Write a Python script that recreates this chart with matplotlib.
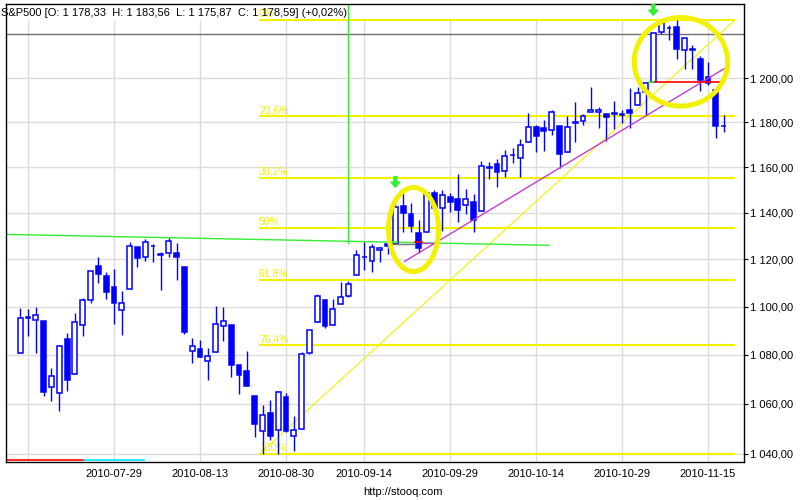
import numpy as np
import matplotlib
matplotlib.use("Agg")
import matplotlib.pyplot as plt
import matplotlib.transforms as mtransforms
from matplotlib.ticker import FixedLocator, NullLocator, FuncFormatter

plt.rcParams['font.family'] = ['Liberation Sans', 'DejaVu Sans']

# S&P500 daily candles, 2010-07-13 .. 2010-11-17
dates = [
    "2010-07-13", "2010-07-14", "2010-07-15", "2010-07-16", "2010-07-19", "2010-07-20", "2010-07-21",
    "2010-07-22", "2010-07-23", "2010-07-26", "2010-07-27", "2010-07-28", "2010-07-29", "2010-07-30",
    "2010-08-02", "2010-08-03", "2010-08-04", "2010-08-05", "2010-08-06", "2010-08-09", "2010-08-10",
    "2010-08-11", "2010-08-12", "2010-08-13", "2010-08-16", "2010-08-17", "2010-08-18", "2010-08-19",
    "2010-08-20", "2010-08-23", "2010-08-24", "2010-08-25", "2010-08-26", "2010-08-27", "2010-08-30",
    "2010-08-31", "2010-09-01", "2010-09-02", "2010-09-03", "2010-09-07", "2010-09-08", "2010-09-09",
    "2010-09-10", "2010-09-13", "2010-09-14", "2010-09-15", "2010-09-16", "2010-09-17", "2010-09-20",
    "2010-09-21", "2010-09-22", "2010-09-23", "2010-09-24", "2010-09-27", "2010-09-28", "2010-09-29",
    "2010-09-30", "2010-10-01", "2010-10-04", "2010-10-05", "2010-10-06", "2010-10-07", "2010-10-08",
    "2010-10-11", "2010-10-12", "2010-10-13", "2010-10-14", "2010-10-15", "2010-10-18", "2010-10-19",
    "2010-10-20", "2010-10-21", "2010-10-22", "2010-10-25", "2010-10-26", "2010-10-27", "2010-10-28",
    "2010-10-29", "2010-11-01", "2010-11-02", "2010-11-03", "2010-11-04", "2010-11-05", "2010-11-08",
    "2010-11-09", "2010-11-10", "2010-11-11", "2010-11-12", "2010-11-15", "2010-11-16", "2010-11-17",
]
opens = [
    1080.65, 1095.61, 1094.46, 1093.85, 1066.85, 1064.53, 1086.67, 1072.14, 1092.17, 1102.89, 1117.36,
    1112.84, 1108.07, 1098.44, 1107.53, 1125.34, 1121.06, 1125.78, 1122.07, 1122.80, 1122.92, 1116.89,
    1081.48, 1082.22, 1077.49, 1081.16, 1092.08, 1092.44, 1075.63, 1073.36, 1063.20, 1048.98, 1056.28,
    1049.27, 1062.90, 1046.88, 1049.72, 1080.66, 1093.61, 1102.60, 1092.36, 1101.15, 1104.57, 1113.38,
    1121.16, 1119.43, 1123.89, 1126.39, 1126.57, 1142.82, 1139.49, 1131.10, 1131.69, 1148.64, 1142.31,
    1146.75, 1145.97, 1143.49, 1144.96, 1140.68, 1159.81, 1161.57, 1158.36, 1165.32, 1164.28, 1171.32,
    1177.82, 1177.47, 1176.83, 1178.64, 1166.74, 1179.56, 1180.73, 1184.74, 1184.88, 1183.84, 1184.47,
    1183.87, 1185.71, 1187.86, 1193.79, 1198.34, 1221.20, 1223.24, 1223.59, 1213.14, 1213.04, 1209.07,
    1200.44, 1194.79, 1178.33,
]
highs = [
    1099.46, 1099.08, 1099.73, 1093.85, 1074.70, 1083.94, 1088.96, 1097.50, 1103.73, 1115.01, 1120.95,
    1114.66, 1115.90, 1106.44, 1127.30, 1125.44, 1128.75, 1126.56, 1123.06, 1129.24, 1127.16, 1116.89,
    1086.72, 1086.25, 1082.62, 1100.14, 1099.77, 1092.44, 1075.63, 1081.58, 1063.20, 1059.38, 1061.45,
    1065.21, 1064.40, 1055.14, 1081.30, 1090.10, 1105.10, 1102.60, 1103.26, 1110.27, 1110.88, 1123.87,
    1127.36, 1126.46, 1125.44, 1131.47, 1144.86, 1148.59, 1144.38, 1136.77, 1148.90, 1149.92, 1150.00,
    1148.63, 1157.16, 1150.30, 1148.16, 1162.76, 1162.33, 1163.87, 1167.73, 1168.68, 1172.58, 1184.38,
    1178.89, 1181.20, 1185.53, 1178.64, 1182.94, 1189.43, 1183.93, 1196.14, 1187.11, 1183.84, 1189.53,
    1185.46, 1195.81, 1195.88, 1198.30, 1221.25, 1227.08, 1224.57, 1226.84, 1218.75, 1215.45, 1210.50,
    1207.43, 1194.79, 1183.56,
]
lows = [
    1080.65, 1087.68, 1080.53, 1063.32, 1061.11, 1056.88, 1065.25, 1072.14, 1087.88, 1101.30, 1109.78,
    1103.11, 1092.82, 1088.01, 1107.53, 1116.76, 1119.46, 1118.81, 1107.17, 1120.91, 1111.01, 1088.55,
    1076.69, 1079.00, 1069.49, 1081.16, 1085.76, 1070.66, 1063.91, 1067.08, 1046.68, 1039.83, 1045.40,
    1039.70, 1048.79, 1040.88, 1049.72, 1080.39, 1093.61, 1091.15, 1092.36, 1101.15, 1103.92, 1113.38,
    1115.58, 1114.63, 1118.88, 1122.43, 1126.57, 1131.87, 1131.58, 1122.79, 1131.69, 1142.00, 1132.09,
    1140.26, 1136.08, 1139.42, 1131.87, 1140.68, 1154.85, 1151.41, 1155.58, 1162.02, 1155.71, 1171.32,
    1166.71, 1167.12, 1174.55, 1159.71, 1166.74, 1171.17, 1178.99, 1184.74, 1177.72, 1171.70, 1177.10,
    1179.70, 1177.65, 1187.86, 1183.56, 1198.34, 1220.29, 1217.55, 1208.94, 1204.33, 1204.49, 1194.08,
    1197.15, 1173.00, 1175.87,
]
closes = [
    1095.34, 1095.17, 1096.48, 1064.88, 1071.25, 1083.48, 1069.59, 1093.67, 1102.66, 1115.01, 1113.84,
    1106.13, 1101.53, 1101.60, 1125.86, 1120.46, 1127.24, 1125.81, 1121.64, 1127.79, 1121.06, 1089.47,
    1083.61, 1079.25, 1079.38, 1092.54, 1094.16, 1075.63, 1071.69, 1067.36, 1051.87, 1055.33, 1047.22,
    1064.59, 1048.92, 1049.33, 1080.29, 1090.10, 1104.51, 1091.84, 1098.87, 1104.18, 1109.55, 1121.90,
    1121.10, 1125.07, 1124.66, 1125.59, 1142.71, 1139.78, 1134.28, 1124.83, 1148.67, 1142.16, 1147.70,
    1144.73, 1141.20, 1146.24, 1137.03, 1160.75, 1159.97, 1158.06, 1165.15, 1165.32, 1169.77, 1178.10,
    1173.81, 1176.19, 1184.71, 1165.90, 1178.17, 1180.26, 1183.08, 1185.62, 1185.64, 1182.45, 1183.78,
    1183.26, 1184.38, 1193.57, 1197.96, 1221.06, 1225.85, 1223.25, 1213.40, 1218.71, 1213.54, 1199.21,
    1197.75, 1178.34, 1178.59,
]

tick_dates = ["2010-07-29", "2010-08-13", "2010-08-30", "2010-09-14",
              "2010-09-29", "2010-10-14", "2010-10-29", "2010-11-15"]
grid_dates = ["2010-07-14"] + tick_dates
price_ticks = [1040, 1060, 1080, 1100, 1120, 1140, 1160, 1180, 1200]

# fibonacci retracement (low 2010-08-27 -> high 2010-11-05)
fib_low = 1039.70
fib_high = 1227.08
fib_ratios = [0.0, 0.236, 0.382, 0.5, 0.618, 0.764, 1.0]
fib_labels = ["0%", "23,6%", "38,2%", "50%", "61,8%", "76,4%", "100%"]
fib_x = [30.55, 91.45]

# trend line through two lows, drawn over a range of days
trend_dates = ["2010-09-23", "2010-10-19"]
trend_x = [49.15, 90.05]

# long green support line
support_x = [-1.8, 67.66]
support_y = [1130.7, 1126.0]
vline_date = "2010-09-10"
vline_bottom = 1126.8

gray_level = 1220.5
right_level = 1198.34
right_green_x = [80.4, 81.2]
right_red_x = [81.2, 89.4]
left_level = 1126.7
left_green_x = [47.5, 48.2]
left_gray_x = [47.5, 50.5]
left_red_x = [50.5, 51.45]
left_purple_x = [51.45, 53.5]

arrow_dates = ["2010-09-20", "2010-11-04"]
arrow_tips = [1151.3, 1229.3]

# ellipses: x range (day index) and price range
ellipse_x = [[47.12, 53.52], [78.56, 90.5]]
ellipse_y = [[1114.8, 1151.1], [1187.4, 1228.2]]

bottom_red_x = [-1.8, 8.2]
bottom_cyan_x = [8.2, 15.9]
bottom_level = 1037.3

BLUE = "#0000ff"
YELLOW = "#f2f200"
GREEN = "#33ee33"


def fmt_price(v):
    return f"{v:,.2f}".replace(",", " ").replace(".", ",")


x = np.arange(len(dates))
o = np.array(opens)
h = np.array(highs)
l = np.array(lows)
c = np.array(closes)

fig = plt.figure(figsize=(8, 5), dpi=100)
ax = fig.add_axes([6 / 800, 38 / 500, 738 / 800, 457.7 / 500])
ax.set_yscale("log")
ax.set_xlim(-1.815, 92.6)
ax.set_ylim(1036.7, 1234.4)

# grid
ax.set_axisbelow(True)
ax.yaxis.set_major_locator(FixedLocator(price_ticks))
ax.yaxis.set_minor_locator(NullLocator())
ax.yaxis.set_major_formatter(FuncFormatter(lambda v, p: fmt_price(v)))
ax.yaxis.grid(True, color="#dcdcdc", lw=1.0)
grid_x = [dates.index(d) for d in grid_dates]
trans = mtransforms.blended_transform_factory(ax.transData, ax.transAxes)
ax.vlines(grid_x, 0, 442 / 457.7, transform=trans, color="#dcdcdc", lw=1.0, zorder=0.5)

ax.set_xticks([dates.index(d) for d in tick_dates])
ax.set_xticklabels(tick_dates)
ax.yaxis.tick_right()
ax.tick_params(axis="y", direction="out", length=3, width=0.8, pad=1.5, labelsize=8)
ax.tick_params(axis="x", length=0, pad=5, labelsize=8)
for s in ax.spines.values():
    s.set_color("black")
    s.set_linewidth(1.0)

# fibonacci
fib_levels = [fib_high - r * (fib_high - fib_low) for r in fib_ratios]
ax.hlines(fib_levels, fib_x[0], fib_x[1], color=YELLOW, lw=1.5, zorder=2)
for lev, lab in zip(fib_levels, fib_labels):
    ax.text(fib_x[0], lev * 1.0004, lab, color=YELLOW, fontsize=7.5, ha="left", va="bottom", zorder=2)
ax.plot(fib_x, [fib_low, fib_high], color=YELLOW, lw=0.8, zorder=2)

# other lines
ax.axhline(gray_level, color="#707070", lw=1.0, zorder=2)
ax.plot(support_x, support_y, color=GREEN, lw=1.0, zorder=2)
vx = dates.index(vline_date)
ax.plot([vx, vx], [vline_bottom, 1234.4], color=GREEN, lw=1.0, zorder=2)
ax.plot(bottom_red_x, [bottom_level] * 2, color="#ff0000", lw=1.2, zorder=2)
ax.plot(bottom_cyan_x, [bottom_level] * 2, color="#00e5ff", lw=1.2, zorder=2)

# candles
ax.vlines(x, l, h, color=BLUE, lw=1.0, zorder=3)
faces = np.where(c >= o, "white", BLUE)
ax.bar(x, np.abs(c - o), bottom=np.minimum(o, c), width=0.62, color=faces,
       edgecolor=BLUE, linewidth=1.1, zorder=4)

# trend line through the two lows
tx = [dates.index(d) for d in trend_dates]
ty = np.log([lows[i] for i in tx])
slope = (ty[1] - ty[0]) / (tx[1] - tx[0])
tr_y = np.exp(ty[0] + slope * (np.array(trend_x) - tx[0]))
ax.plot(trend_x, tr_y, color="#c040d0", lw=1.0, zorder=5)

# small markers in bubbles
ax.plot(left_gray_x, [left_level] * 2, color="#707070", lw=1.0, zorder=5)
ax.plot(left_green_x, [left_level * 1.0005] * 2, color=GREEN, lw=1.2, zorder=5)
ax.plot(left_red_x, [left_level * 1.0005] * 2, color="#ff0000", lw=1.2, zorder=5)
ax.plot(left_purple_x, [left_level * 1.0002] * 2, color="#c040d0", lw=1.0, zorder=5)
ax.plot(right_green_x, [right_level] * 2, color=GREEN, lw=1.2, zorder=5)
ax.plot(right_red_x, [right_level] * 2, color="#ff0000", lw=1.2, zorder=5)

# ellipses
t = np.linspace(0, 2 * np.pi, 300)
for ex, ey in zip(ellipse_x, ellipse_y):
    cx = (ex[0] + ex[1]) / 2
    rx = (ex[1] - ex[0]) / 2
    cy = (np.log(ey[0]) + np.log(ey[1])) / 2
    ry = (np.log(ey[1]) - np.log(ey[0])) / 2
    ax.plot(cx + rx * np.cos(t), np.exp(cy + ry * np.sin(t)), color=YELLOW, lw=3.6, zorder=6)

# arrows
for d, tip in zip(arrow_dates, arrow_tips):
    ax.annotate("", xy=(dates.index(d), tip), xytext=(0, 7.5), textcoords="offset points",
                arrowprops=dict(facecolor=GREEN, edgecolor=GREEN, width=2.2, headwidth=6.5,
                                headlength=3.6, shrink=0), zorder=7)

title = "S&P500 [O: {}  H: {}  L: {}  C: {}] ({:+.2f}%)".format(
    fmt_price(opens[-1]), fmt_price(highs[-1]), fmt_price(lows[-1]), fmt_price(closes[-1]),
    (closes[-1] / closes[-2] - 1) * 100).replace("+0.", "+0,")
fig.text(1 / 800, 1 - 12.5 / 500, title, fontsize=8, va="center", ha="left")
fig.text(403 / 800, 1 - 492 / 500, "http://stooq.com", fontsize=8, va="center", ha="center")

fig.savefig("out.png", dpi=100)
